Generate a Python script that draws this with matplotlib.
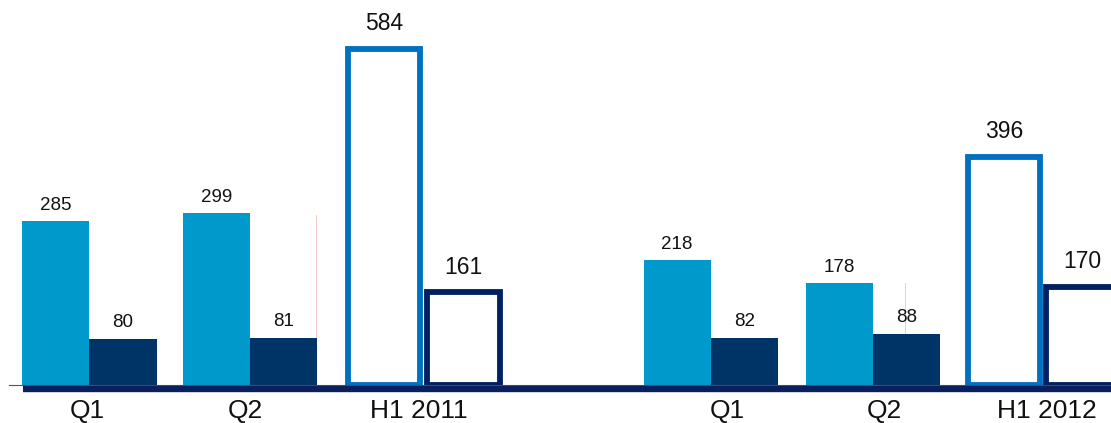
import matplotlib
matplotlib.use('Agg')
import matplotlib.pyplot as plt

# data
categories = ['Q1', 'Q2', 'H1 2011', 'Q1', 'Q2', 'H1 2012']
quarter_light = [285, 299, 218, 178]
quarter_dark = [80, 81, 82, 88]
half_light = [584, 396]
half_dark = [161, 170]

# layout (x in pixel-like units, 1 unit = 1 px)
W, H = 1111, 423
BASE_PX = 385          # baseline distance from top
PX_PER_UNIT = 0.575
q_left = [22, 182.5, 643.5, 805.5]     # left edge of light quarter bars
q_width = 67.3
h_center_light = [384, 1004]
h_center_dark = [463.5, 1082.5]
h_width = 72.5
cat_x = [87, 245, 419, 727, 884, 1047]

LIGHT = '#0099cc'
DARK = '#003366'
OUT_LIGHT = '#0070c0'
OUT_DARK = '#002060'

plt.rcParams['font.family'] = ['Liberation Sans', 'DejaVu Sans']

fig = plt.figure(figsize=(W / 100, H / 100), dpi=100)
ax = fig.add_axes([0, (H - BASE_PX) / H, 1, BASE_PX / H])
ax.set_xlim(0, W)
ax.set_ylim(0, BASE_PX / PX_PER_UNIT)
ax.axis('off')

# filled quarter bars
for x0, a, b in zip(q_left, quarter_light, quarter_dark):
  ax.bar(x0, a, q_width, align='edge', color=LIGHT, zorder=2)
  ax.bar(x0 + q_width, b, q_width, align='edge', color=DARK, zorder=2)
  ax.annotate(str(a), (x0 + q_width / 2, a), xytext=(0, 5),
              textcoords='offset points', ha='center', va='bottom',
              fontsize=13.5, color='#111111')
  ax.annotate(str(b), (x0 + 1.5 * q_width, b), xytext=(0, 6),
              textcoords='offset points', ha='center', va='bottom',
              fontsize=13.5, color='#111111')

# outlined half-year bars
for xc, v in zip(h_center_light, half_light):
  ax.bar(xc, v, h_width, fill=False, edgecolor=OUT_LIGHT, linewidth=4.2,
         zorder=2)
  ax.annotate(str(v), (xc, v), xytext=(0, 10), textcoords='offset points',
              ha='center', va='bottom', fontsize=16.5, color='#111111')
for xc, v in zip(h_center_dark, half_dark):
  ax.bar(xc, v, h_width, fill=False, edgecolor=OUT_DARK, linewidth=4.2,
         zorder=2)
  ax.annotate(str(v), (xc, v), xytext=(0, 10), textcoords='offset points',
              ha='center', va='bottom', fontsize=16.5, color='#111111')

# faint guide artifacts
ax.plot([316, 316], [(BASE_PX - 340) / PX_PER_UNIT, (BASE_PX - 215) / PX_PER_UNIT],
        color='#f6c8c8', lw=0.7, zorder=1)
ax.plot([905, 905], [(BASE_PX - 333) / PX_PER_UNIT, (BASE_PX - 283) / PX_PER_UNIT],
        color='#f6c8c8', lw=0.7, zorder=1)

# baselines
ax.plot([9, W], [0, 0], color='#555555', lw=0.8, zorder=3, clip_on=False)
ax.plot([23, W], [-7, -7], color='#0a1f5c', lw=4.6, zorder=4,
        solid_capstyle='butt', clip_on=False)

# category labels
for x, c in zip(cat_x, categories):
  ax.text(x, -26 / PX_PER_UNIT, c, ha='center', va='center', fontsize=19,
          color='#111111', clip_on=False)

fig.savefig('out.png', dpi=100)
